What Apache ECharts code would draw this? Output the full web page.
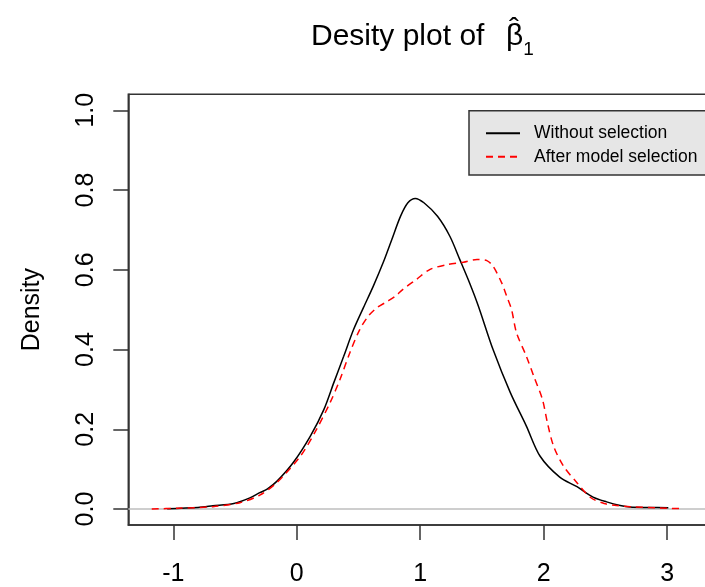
<!DOCTYPE html>
<html>
<head>
<meta charset="utf-8">
<script src="https://cdn.jsdelivr.net/npm/echarts@6/dist/echarts.min.js"></script>
<style>
html,body{margin:0;padding:0;background:#fff;}
#chart{width:705px;height:587px;background:#fff;}
</style>
</head>
<body>
<div id="chart"></div>
<script>
// ---- data ----
const xTicks = [-1, 0, 1, 2, 3];
const yTicks = [0, 0.2, 0.4, 0.6, 0.8, 1.0];
const seriesNames = ['Without selection', 'After model selection'];

const blackX = [-1.05, -0.8, -0.68, -0.51, -0.38, -0.3, -0.24, -0.16, -0.03, 0.11, 0.22, 0.30, 0.38, 0.46, 0.54, 0.62, 0.70, 0.77, 0.84, 0.90, 0.96, 1.03, 1.14, 1.24, 1.32, 1.40, 1.47, 1.59, 1.73, 1.86, 1.97, 2.13, 2.27, 2.40, 2.51, 2.62, 2.70, 2.85, 3.01];
const blackY = [0.001, 0.004, 0.008, 0.014, 0.028, 0.041, 0.050, 0.070, 0.116, 0.183, 0.25, 0.317, 0.383, 0.45, 0.505, 0.559, 0.618, 0.676, 0.734, 0.768, 0.779, 0.768, 0.734, 0.684, 0.626, 0.567, 0.51, 0.40, 0.292, 0.208, 0.133, 0.080, 0.056, 0.030, 0.018, 0.009, 0.005, 0.004, 0.0035];

const redX = [-1.175, -0.97, -0.68, -0.46, -0.3, -0.16, 0.03, 0.16, 0.27, 0.35, 0.43, 0.51, 0.58, 0.65, 0.73, 0.80, 0.86, 0.97, 1.08, 1.22, 1.35, 1.46, 1.54, 1.59, 1.66, 1.70, 1.74, 1.78, 1.86, 1.92, 1.99, 2.03, 2.08, 2.16, 2.27, 2.38, 2.49, 2.59, 2.70, 3.0, 3.106];
const redY = [0.0, 0.002, 0.006, 0.016, 0.035, 0.067, 0.133, 0.20, 0.267, 0.325, 0.392, 0.45, 0.484, 0.505, 0.52, 0.534, 0.551, 0.576, 0.601, 0.613, 0.619, 0.626, 0.623, 0.609, 0.567, 0.534, 0.50, 0.442, 0.383, 0.333, 0.275, 0.217, 0.158, 0.108, 0.066, 0.029, 0.014, 0.009, 0.006, 0.002, 0.001];

const xRange = [-1.365, 3.38];
const yRange = [-0.04, 1.04];
// --------------------------------------

const FONT = '"Liberation Sans", Arial, sans-serif';
const zip = (xs, ys) => xs.map((x, i) => [x, ys[i]]);
const axisStroke = {color: '#333', width: 1.5};

const chart = echarts.init(document.getElementById('chart'), null, {renderer: 'canvas'});
chart.setOption({
  animation: false,
  title: [
    {
      text: '{a|Desity plot of  }{b|\u03B2}{c|1}',
      left: 311,
      top: 22,
      padding: 0,
      textStyle: {
        fontWeight: 'normal',
        rich: {
          a: {fontFamily: FONT, fontSize: 30, fontWeight: 'normal', color: '#000', lineHeight: 30},
          b: {fontFamily: FONT, fontSize: 30, fontWeight: 'normal', color: '#000', lineHeight: 30, padding: [0, 0, 0, 5]},
          c: {fontFamily: FONT, fontSize: 19, fontWeight: 'normal', color: '#000', lineHeight: 30, padding: [25, 0, 0, 0]}
        }
      }
    },
    {
      text: '\u02C6',
      left: 509,
      top: 15,
      padding: 0,
      textStyle: {fontFamily: FONT, fontSize: 30, fontWeight: 'normal', color: '#000', lineHeight: 30}
    }
  ],
  legend: {
    data: seriesNames,
    orient: 'vertical',
    left: 469,
    top: 110.7,
    padding: [12.6, 9, 8.3, 16],
    itemWidth: 34,
    itemHeight: 14,
    itemGap: 3.4,
    backgroundColor: '#e6e6e6',
    borderColor: '#333',
    borderWidth: 1.5,
    borderRadius: 0,
    itemStyle: {opacity: 0},
    textStyle: {fontFamily: FONT, fontSize: 17.5, color: '#000', lineHeight: 20, padding: [0, 0, 0, 9]}
  },
  grid: {
    left: 128.3,
    top: 94.3,
    width: 585.7,
    height: 430.7,
    show: true,
    borderColor: '#333',
    borderWidth: 1.5,
    outerBoundsMode: 'none'
  },
  xAxis: {
    type: 'value',
    min: xRange[0],
    max: xRange[1],
    splitLine: {show: false},
    axisLine: {show: true, onZero: false, lineStyle: axisStroke},
    axisTick: {show: true, customValues: xTicks, length: 15, lineStyle: axisStroke},
    axisLabel: {customValues: xTicks, margin: 37, fontFamily: FONT, fontSize: 25, color: '#000'}
  },
  yAxis: {
    type: 'value',
    min: yRange[0],
    max: yRange[1],
    name: 'Density',
    nameLocation: 'middle',
    nameRotate: 90,
    nameGap: 84,
    nameTextStyle: {fontFamily: FONT, fontSize: 25, color: '#000'},
    splitLine: {show: false},
    axisLine: {show: true, onZero: false, lineStyle: axisStroke},
    axisTick: {show: true, customValues: yTicks, length: 15, lineStyle: axisStroke},
    axisLabel: {customValues: yTicks, rotate: 90, margin: 30, fontFamily: FONT, fontSize: 25, color: '#000',
      formatter: v => Number(v).toFixed(1)}
  },
  series: [
    {
      name: seriesNames[0],
      type: 'line',
      data: zip(blackX, blackY),
      symbol: 'none',
      smooth: 0.3,
      lineStyle: {color: '#000', width: 1.5},
      itemStyle: {color: '#000'},
      z: 3,
      markLine: {
        silent: true,
        symbol: ['none', 'none'],
        label: {show: false},
        lineStyle: {color: '#bebebe', type: 'solid', width: 1.5},
        data: [{yAxis: 0}],
        z: 1
      }
    },
    {
      name: seriesNames[1],
      type: 'line',
      data: zip(redX, redY),
      symbol: 'none',
      smooth: 0.3,
      lineStyle: {color: '#ff0000', width: 1.5, type: [7, 5]},
      itemStyle: {color: '#ff0000'},
      z: 4
    }
  ]
});
</script>
</body>
</html>
